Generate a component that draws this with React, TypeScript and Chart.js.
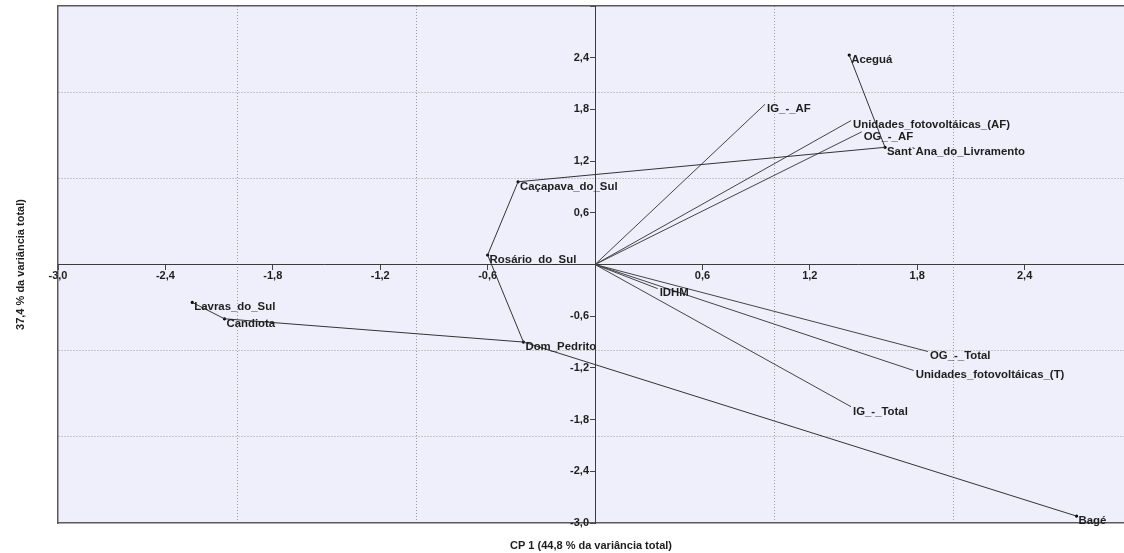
import React, { useEffect, useRef } from "react";
import { Chart, registerables } from "chart.js";

Chart.register(...registerables);

// Municipalities (scores)
const muniNames = [
  "Aceguá",
  "Sant`Ana_do_Livramento",
  "Caçapava_do_Sul",
  "Rosário_do_Sul",
  "Dom_Pedrito",
  "Candiota",
  "Lavras_do_Sul",
  "Bagé",
];
const muniX = [1.42, 1.62, -0.43, -0.6, -0.4, -2.07, -2.25, 2.69];
const muniY = [2.43, 1.36, 0.96, 0.11, -0.9, -0.63, -0.44, -2.92];

// Connections between municipalities (indices into the arrays above)
const chainPath = [0, 1, 2, 3, 4, 5, 6];
const branchPath = [4, 7];

// Variables (loadings)
const varNames = [
  "IG_-_AF",
  "Unidades_fotovoltáicas_(AF)",
  "OG_-_AF",
  "OG_-_Total",
  "Unidades_fotovoltáicas_(T)",
  "IG_-_Total",
  "IDHM",
];
const varX = [0.95, 1.43, 1.49, 1.86, 1.78, 1.43, 0.35];
const varY = [1.86, 1.67, 1.54, -1.01, -1.23, -1.65, -0.28];

const X_MIN = -3;
const X_MAX = 2.955;
const Y_MIN = -3;
const Y_MAX = 3;
const TICK_STEP = 0.6;
const GRID_STEP = 1;

const xTitle = "CP 1 (44,8 % da variância total)";
const yTitle = "37,4 % da variância total)";

const FONT = "'Liberation Sans', Arial, sans-serif";
const TEXT_COLOR = "#1e1e1e";

function fmt(v: number, skipTop: boolean): string {
  const r = Math.round(v * 10) / 10;
  if (r === 0) return "";
  if (skipTop && r === 3) return "";
  return r.toFixed(1).replace(".", ",");
}

function zeroPad(s: any) {
  s.paddingTop = 0;
  s.paddingBottom = 0;
  s.paddingLeft = 0;
  s.paddingRight = 0;
}

const bgPlugin = {
  id: "plotBg",
  beforeDraw(chart: any) {
    const { ctx, chartArea } = chart;
    if (!chartArea) return;
    ctx.save();
    ctx.fillStyle = "#EFEFFB";
    ctx.fillRect(chartArea.left, chartArea.top, chartArea.right - chartArea.left, chartArea.bottom - chartArea.top);
    ctx.restore();
  },
};

// Moves the y label axis so that it crosses the x axis at value 0
const centerYAxisPlugin = {
  id: "centerYAxis",
  afterLayout(chart: any) {
    const s = chart.scales.y;
    const px = chart.scales.x.getPixelForValue(0);
    s.right = px;
    s.left = px - 60;
    s.width = 60;
  },
};

const labelPlugin = {
  id: "pointLabelsText",
  afterDatasetsDraw(chart: any) {
    const ctx = chart.ctx;
    ctx.save();
    ctx.font = `bold 11.4px ${FONT}`;
    ctx.fillStyle = TEXT_COLOR;
    ctx.textAlign = "left";
    ctx.textBaseline = "top";
    chart.data.datasets.forEach((ds: any, i: number) => {
      const labels: string[] | undefined = ds.pointLabels;
      if (!labels) return;
      const meta = chart.getDatasetMeta(i);
      meta.data.forEach((el: any, j: number) => {
        const t = labels[j];
        if (t) ctx.fillText(t, el.x + 2, el.y - 1);
      });
    });
    ctx.restore();
  },
};

export default function App() {
  const ref = useRef<HTMLCanvasElement | null>(null);

  useEffect(() => {
    if (!ref.current) return;
    Chart.defaults.font.family = FONT;

    const toPts = (idx: number[]) => idx.map((i) => ({ x: muniX[i], y: muniY[i] }));

    const datasets: any[] = [];
    datasets.push({
      label: "chain",
      data: toPts(chainPath),
      showLine: true,
      borderColor: "#333",
      borderWidth: 1,
      pointRadius: 0,
      xAxisID: "x",
      yAxisID: "y",
    });
    datasets.push({
      label: "branch",
      data: toPts(branchPath),
      showLine: true,
      borderColor: "#333",
      borderWidth: 1,
      pointRadius: 0,
      xAxisID: "x",
      yAxisID: "y",
    });
    varNames.forEach((n, i) => {
      datasets.push({
        label: n,
        data: [
          { x: 0, y: 0 },
          { x: varX[i], y: varY[i] },
        ],
        showLine: true,
        borderColor: "#444",
        borderWidth: 1,
        pointRadius: 0,
        pointLabels: ["", n],
        xAxisID: "x",
        yAxisID: "y",
      });
    });
    datasets.push({
      label: "municipios",
      data: muniNames.map((_, i) => ({ x: muniX[i], y: muniY[i] })),
      showLine: false,
      pointRadius: 1.6,
      pointBackgroundColor: "#000",
      pointBorderWidth: 0,
      pointLabels: muniNames,
      xAxisID: "x",
      yAxisID: "y",
    });

    const gridColor = (c: any) => {
      const v = c.tick ? Math.round(c.tick.value * 10) / 10 : 0;
      return v === 0 || Math.abs(v) === 3 ? "rgba(0,0,0,0)" : "#9a9a9a";
    };

    const tickFont = { size: 11, weight: "bold", family: FONT };

    const chart = new Chart(ref.current, {
      type: "scatter",
      data: { datasets },
      options: {
        animation: false,
        responsive: false,
        layout: { autoPadding: false, padding: { top: 6, left: 0, right: 0, bottom: 0 } },
        plugins: {
          legend: { display: false },
          tooltip: { enabled: false },
        },
        scales: {
          xg: {
            type: "linear",
            position: "bottom",
            min: X_MIN,
            max: X_MAX,
            ticks: { display: false, stepSize: GRID_STEP, includeBounds: false },
            grid: { color: gridColor, drawTicks: false, lineWidth: 1 },
            border: { display: true, color: "#5a5a5a", width: 1.5, dash: [1, 2] },
            title: {
              display: true,
              text: xTitle,
              color: TEXT_COLOR,
              font: tickFont,
              padding: { top: 0, bottom: 0 },
            },
            afterFit: (s: any) => {
              s.height = 30;
              zeroPad(s);
            },
          },
          xt: {
            type: "linear",
            position: "top",
            min: X_MIN,
            max: X_MAX,
            ticks: { display: false },
            grid: { display: false, drawTicks: false },
            border: { display: true, color: "#5a5a5a", width: 1.5 },
            afterFit: (s: any) => {
              s.height = 0;
              zeroPad(s);
            },
          },
          yg: {
            type: "linear",
            position: "left",
            weight: 0,
            min: Y_MIN,
            max: Y_MAX,
            ticks: { display: false, stepSize: GRID_STEP, includeBounds: false },
            grid: { color: gridColor, drawTicks: false, lineWidth: 1 },
            border: { display: true, color: "#5a5a5a", width: 1.5, dash: [1, 2] },
            title: {
              display: true,
              text: yTitle,
              color: TEXT_COLOR,
              font: tickFont,
              padding: { top: 14, bottom: 0 },
            },
            afterFit: (s: any) => {
              s.width = 58;
              zeroPad(s);
            },
          },
          x: {
            type: "linear",
            position: { y: 0 },
            min: X_MIN,
            max: X_MAX,
            ticks: {
              stepSize: TICK_STEP,
              includeBounds: false,
              autoSkip: false,
              maxRotation: 0,
              padding: 0,
              color: TEXT_COLOR,
              font: tickFont,
              callback: (v: any) => fmt(Number(v), false),
            },
            grid: { drawOnChartArea: false, drawTicks: true, tickLength: 5, color: "#444" },
            border: { display: true, color: "#3c3c3c", width: 1 },
            afterFit: (s: any) => {
              s.height = 0;
              zeroPad(s);
            },
          },
          y: {
            type: "linear",
            position: "left",
            weight: 1,
            min: Y_MIN,
            max: Y_MAX,
            ticks: {
              stepSize: TICK_STEP,
              includeBounds: false,
              autoSkip: false,
              padding: 1,
              color: TEXT_COLOR,
              font: tickFont,
              callback: (v: any) => fmt(Number(v), true),
            },
            grid: { drawOnChartArea: false, drawTicks: true, tickLength: 5, color: "#444" },
            border: { display: true, color: "#3c3c3c", width: 1 },
            afterFit: (s: any) => {
              s.width = 0;
              zeroPad(s);
            },
          },
        },
      } as any,
      plugins: [bgPlugin, centerYAxisPlugin, labelPlugin],
    });

    return () => chart.destroy();
  }, []);

  return (
    <div style={{ position: "absolute", left: 0, top: 0, width: 1124, height: 553, background: "#fff" }}>
      <canvas ref={ref} width={1124} height={553} style={{ width: 1124, height: 553, display: "block" }} />
    </div>
  );
}
